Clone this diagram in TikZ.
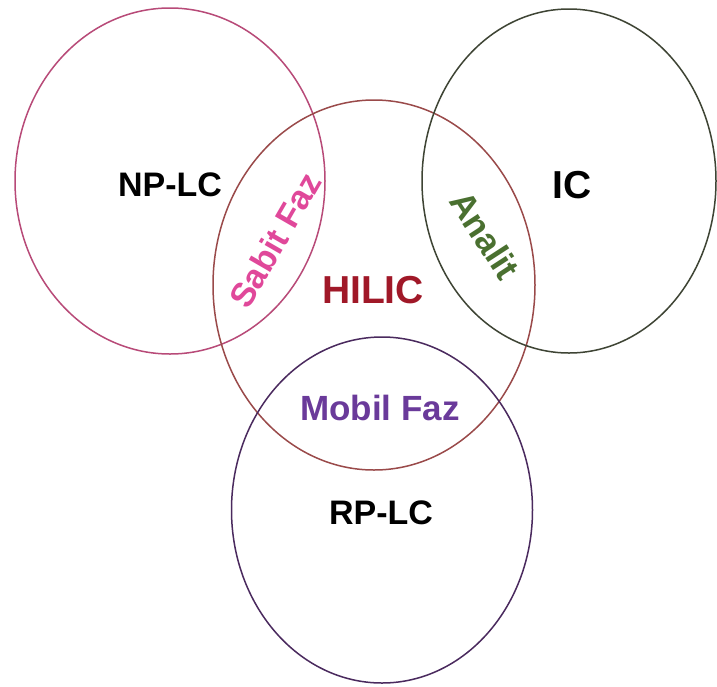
\documentclass[tikz,border=0pt]{standalone}
\usepackage{fontspec}
\setmainfont{Liberation Sans}
\usetikzlibrary{shapes.geometric}
\definecolor{cnp}{HTML}{B84A78}
\definecolor{chil}{HTML}{9A4A4A}
\definecolor{cic}{HTML}{3E4434}
\definecolor{crp}{HTML}{4A2A5E}
\definecolor{thil}{HTML}{A01828}
\definecolor{tsab}{HTML}{E0489A}
\definecolor{tana}{HTML}{4A7030}
\definecolor{tmob}{HTML}{6A3A9A}
\tikzset{
  venn/.style={ellipse, draw, line width=1.5pt, inner sep=0pt},
  lbl/.style={font=\bfseries, inner sep=0pt},
}
\begin{document}
\begin{tikzpicture}[x=1pt,y=-1pt]
\useasboundingbox[fill=white] (0,0) rectangle (717,686);
\node[venn, draw=cnp, minimum width=310pt, minimum height=346pt] (np) at (170,181) {};
\node[venn, draw=chil, minimum width=322pt, minimum height=370pt] (hil) at (374,285) {};
\node[venn, draw=cic, minimum width=294pt, minimum height=344pt] (ic) at (569,181) {};
\node[venn, draw=crp, minimum width=301pt, minimum height=346pt] (rp) at (382,510) {};
\node[lbl, font=\fontsize{34}{38}\selectfont\bfseries] (tnp) at (170,185) {NP-LC};
\node[lbl, font=\fontsize{39}{42}\selectfont\bfseries] (tic) at (572,185) {IC};
\node[lbl, text=thil, font=\fontsize{39}{42}\selectfont\bfseries] (thilic) at (373,290) {HILIC};
\node[lbl, text=tsab, rotate=60, font=\fontsize{34}{38}\selectfont\bfseries] (tsabit) at (275,240) {Sabit Faz};
\node[lbl, text=tana, rotate=-57, font=\fontsize{35}{38}\selectfont\bfseries] (tanalit) at (485,235) {Analit};
\node[lbl, text=tmob, font=\fontsize{35}{38}\selectfont\bfseries] (tmobil) at (380,408) {Mobil Faz};
\node[lbl, font=\fontsize{34}{38}\selectfont\bfseries] (trp) at (381,513) {RP-LC};
\end{tikzpicture}
\end{document}
